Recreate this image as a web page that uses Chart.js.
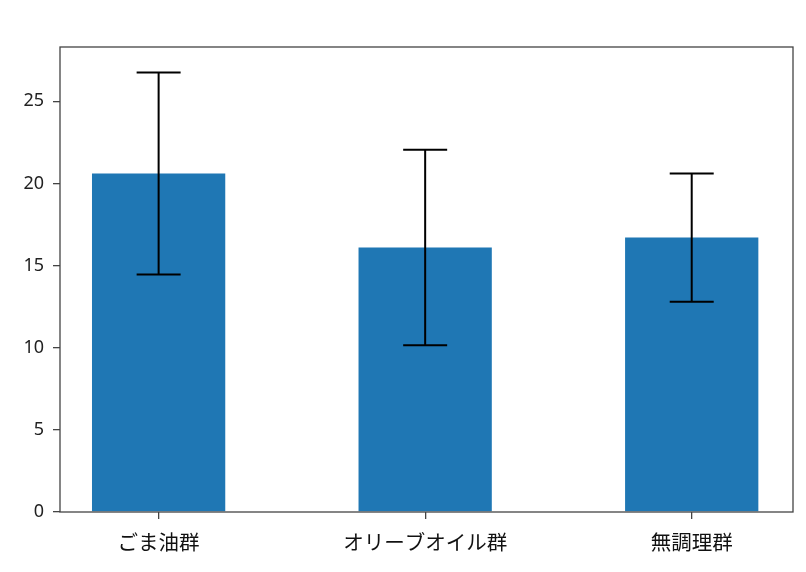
<!DOCTYPE html>
<html lang="ja">
<head>
<meta charset="UTF-8">
<title>群別 平均値</title>
<style>
    body { margin: 0; background: #fff; }
    #wrap { width: 806px; height: 572px; }
</style>
<script src="https://cdn.jsdelivr.net/npm/chart.js"></script>
</head>
<body>
<div id="wrap"><canvas id="chart" width="806" height="572"></canvas></div>
<script>
    const groups = ["ごま油群", "オリーブオイル群", "無調理群"];
    const means = [20.6, 16.1, 16.7];
    const errors = [6.15, 5.95, 3.9];
    const yTicks = [0, 5, 10, 15, 20, 25];

    // 誤差棒とまわりの枠線
    const errorBars = {
        id: 'errorBars',
        afterDatasetsDraw(chart) {
            const { ctx, scales: { x, y }, chartArea } = chart;
            ctx.save();
            ctx.strokeStyle = '#000';
            ctx.lineWidth = 2;
            means.forEach((m, i) => {
                const px = x.getPixelForValue(i);
                const top = y.getPixelForValue(m + errors[i]);
                const bot = y.getPixelForValue(m - errors[i]);
                ctx.beginPath();
                ctx.moveTo(px, top); ctx.lineTo(px, bot);
                ctx.moveTo(px - 22, top); ctx.lineTo(px + 22, top);
                ctx.moveTo(px - 22, bot); ctx.lineTo(px + 22, bot);
                ctx.stroke();
            });
            ctx.strokeStyle = '#444';
            ctx.lineWidth = 1.3;
            ctx.strokeRect(chartArea.left, chartArea.top, chartArea.right - chartArea.left, chartArea.bottom - chartArea.top);
            ctx.restore();
        }
    };

    new Chart(document.getElementById('chart'), {
        type: 'bar',
        data: {
            datasets: [{
                data: means.map((v, i) => ({ x: i, y: v })),
                backgroundColor: '#1f77b4',
                barPercentage: 0.5,
                categoryPercentage: 1
            }]
        },
        options: {
            responsive: false,
            animation: false,
            layout: { padding: { top: 47, right: 13, left: 0, bottom: 0 } },
            plugins: { legend: { display: false }, tooltip: { enabled: false } },
            scales: {
                x: {
                    type: 'linear',
                    offset: false,
                    min: -0.37,
                    max: 2.38,
                    afterBuildTicks(scale) {
                        scale.ticks = groups.map((g, i) => ({ value: i }));
                    },
                    afterFit(scale) { scale.height = 60; },
                    grid: { offset: false, drawOnChartArea: false, drawTicks: true, tickLength: 7, color: '#444', lineWidth: 1.3 },
                    border: { display: false },
                    ticks: {
                        padding: 11,
                        color: '#111',
                        font: { family: '"Noto Sans CJK JP"', size: 20.5 },
                        callback: (v) => groups[v] ?? ''
                    }
                },
                y: {
                    min: 0,
                    max: 28.3,
                    afterBuildTicks(scale) {
                        scale.ticks = yTicks.map(v => ({ value: v }));
                    },
                    afterFit(scale) { scale.width = 60; },
                    grid: { drawOnChartArea: false, drawTicks: true, tickLength: 7, color: '#444', lineWidth: 1.3 },
                    border: { display: false },
                    ticks: {
                        padding: 9,
                        color: '#222',
                        font: { family: '"Noto Sans"', size: 18 }
                    }
                }
            }
        },
        plugins: [errorBars]
    });
</script>
</body>
</html>
